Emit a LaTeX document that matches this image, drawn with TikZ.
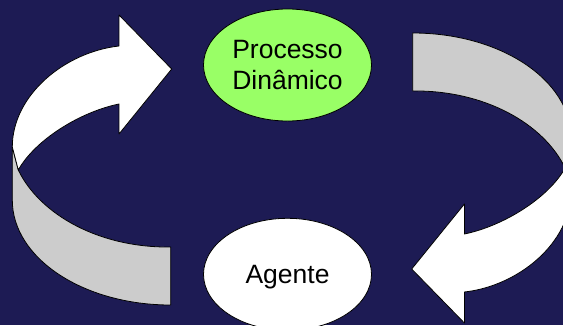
\documentclass[tikz,border=0pt]{standalone}
\usepackage{fontspec}
\setmainfont{Liberation Sans}
\usetikzlibrary{shapes.geometric}
\definecolor{bgnavy}{RGB}{29,27,84}
\definecolor{procgreen}{RGB}{153,255,102}
\definecolor{backgray}{RGB}{204,204,204}
\tikzset{
  ell/.style={ellipse, draw=black, line width=0.8pt, minimum width=168pt, minimum height=112pt,
    inner sep=0pt, align=center, text depth=0pt, font=\fontsize{26.5}{31}\selectfont, text=black},
  frontband/.style={fill=white, draw=black, line width=0.8pt, line join=round},
  backband/.style={fill=backgray, draw=black, line width=0.8pt, line join=round}
}
\begin{document}
\begin{tikzpicture}[x=1pt,y=-1pt]
\useasboundingbox (0,0) rectangle (563,325);
\fill[bgnavy] (0,0) rectangle (563,325);
\clip (0,0) rectangle (563,325);
% left curved arrow
\begin{scope}
  \path[backband] (12.3,147) -- (18.3,170) .. controls (40,215) and (100,248) .. (170.7,247)
     -- (170.7,305) .. controls (83,305) and (12.3,258) .. (12.3,200) -- cycle;
  \path[frontband] (171.7,69) -- (119,15) -- (119,46) .. controls (65,52) and (12.3,95) .. (12.3,147)
     -- (18.3,170) .. controls (35,140) and (80,112) .. (119,104) -- (119,134) -- cycle;
\end{scope}
% right curved arrow (point reflection of the left one)
\begin{scope}[rotate around={180:(291.7,169)}]
  \path[backband] (12.3,147) -- (18.3,170) .. controls (40,215) and (100,248) .. (170.7,247)
     -- (170.7,305) .. controls (83,305) and (12.3,258) .. (12.3,200) -- cycle;
  \path[frontband] (171.7,69) -- (119,15) -- (119,46) .. controls (65,52) and (12.3,95) .. (12.3,147)
     -- (18.3,170) .. controls (35,140) and (80,112) .. (119,104) -- (119,134) -- cycle;
\end{scope}
% nodes
\node[ell, fill=procgreen] (pd) at (287.5,65) {Processo\\Dinâmico};
\node[ell, fill=white] (ag) at (287.5,274.3) {Agente};
\end{tikzpicture}
\end{document}
